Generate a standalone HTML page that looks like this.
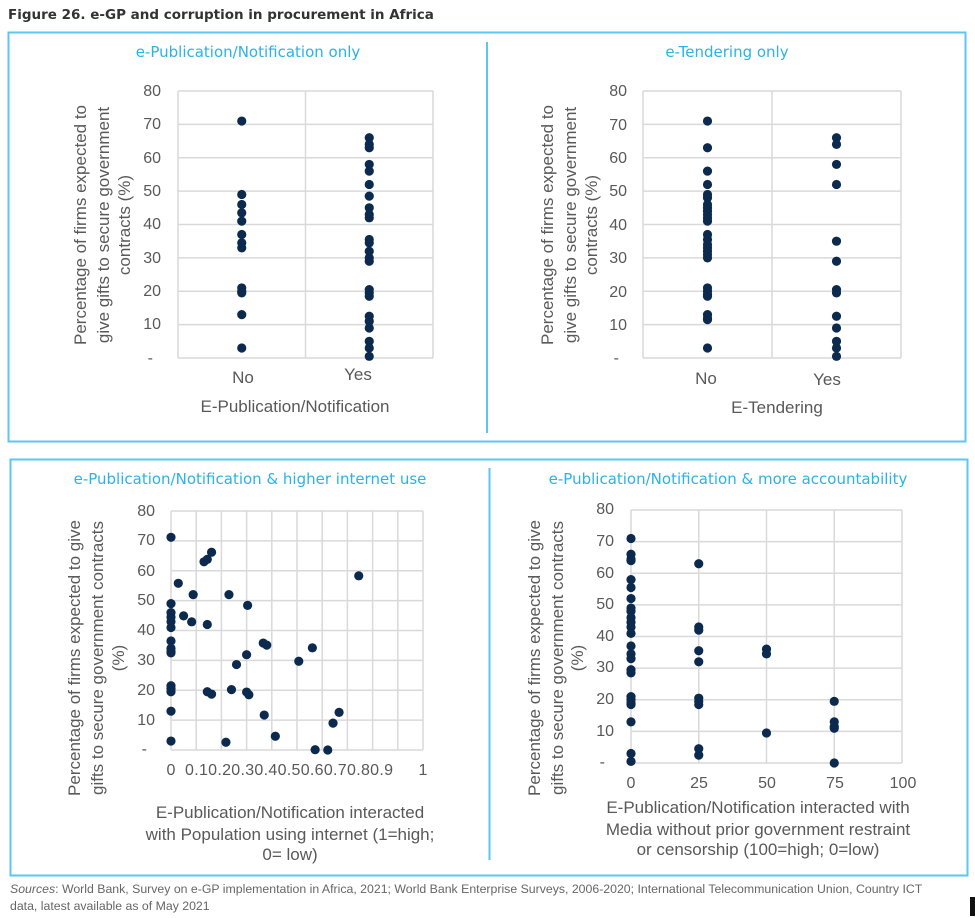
<!DOCTYPE html>
<html><head><meta charset="utf-8"><style>
html,body{margin:0;padding:0;background:#fff;width:975px;height:918px;overflow:hidden}
svg{display:block}
.t{font-family:"Liberation Sans",sans-serif;fill:#595959;font-size:16px}
.a{font-family:"Liberation Sans",sans-serif;fill:#595959;font-size:17px}
.ti{font-family:"DejaVu Sans","Liberation Sans",sans-serif;fill:#2bb3e6;font-size:15px}
</style></head><body>
<svg id="s" width="975" height="918" viewBox="0 0 975 918" xmlns="http://www.w3.org/2000/svg">
<text x="8" y="19" font-family="DejaVu Sans,Liberation Sans,sans-serif" font-weight="bold" font-size="13.5" fill="#333">Figure 26. e-GP and corruption in procurement in Africa</text>
<rect x="8.5" y="32.5" width="957" height="409" fill="none" stroke="#5cc6ee" stroke-width="2"/>
<line x1="487" y1="42" x2="487" y2="433" stroke="#5cc6ee" stroke-width="2"/>
<rect x="10.5" y="459.5" width="957" height="416" fill="none" stroke="#5cc6ee" stroke-width="2"/>
<line x1="489.5" y1="468" x2="489.5" y2="860" stroke="#5cc6ee" stroke-width="2"/>

<text class="ti" x="248" y="57" text-anchor="middle">e-Publication/Notification only</text>
<text class="ti" x="727" y="57" text-anchor="middle">e-Tendering only</text>
<text class="ti" x="250" y="484" text-anchor="middle">e-Publication/Notification &amp; higher internet use</text>
<text class="ti" x="728" y="484" text-anchor="middle">e-Publication/Notification &amp; more accountability</text>

<g id="grids"></g>
<g id="dots" fill="#0c2a4d"></g>

<!-- panel 1 -->
<g class="t" text-anchor="end">
<text x="161" y="96">80</text><text x="161" y="129">70</text><text x="161" y="163">60</text><text x="161" y="196">50</text><text x="161" y="229">40</text><text x="161" y="263">30</text><text x="161" y="296">20</text><text x="161" y="329">10</text><text x="153" y="363">-</text>
</g>
<text class="a" x="243" y="383" text-anchor="middle">No</text>
<text class="a" x="358" y="380" text-anchor="middle">Yes</text>
<text class="a" x="295" y="412" text-anchor="middle">E-Publication/Notification</text>
<g class="a" text-anchor="middle">
<text transform="translate(86,225) rotate(-90)">Percentage of firms expected to</text>
<text transform="translate(109,225) rotate(-90)">give gifts to secure government</text>
<text transform="translate(130,225) rotate(-90)">contracts (%)</text>
</g>

<!-- panel 2 -->
<g class="t" text-anchor="end">
<text x="627" y="96">80</text><text x="627" y="130">70</text><text x="627" y="163">60</text><text x="627" y="196">50</text><text x="627" y="230">40</text><text x="627" y="263">30</text><text x="627" y="297">20</text><text x="627" y="330">10</text><text x="619" y="363">-</text>
</g>
<text class="a" x="706" y="384" text-anchor="middle">No</text>
<text class="a" x="827" y="385" text-anchor="middle">Yes</text>
<text class="a" x="777" y="413" text-anchor="middle">E-Tendering</text>
<g class="a" text-anchor="middle">
<text transform="translate(553,225) rotate(-90)">Percentage of firms expected to</text>
<text transform="translate(576,225) rotate(-90)">give gifts to secure government</text>
<text transform="translate(597,225) rotate(-90)">contracts (%)</text>
</g>

<!-- panel 3 -->
<g class="t" text-anchor="end">
<text x="155" y="516">80</text><text x="155" y="545">70</text><text x="155" y="576">60</text><text x="155" y="605">50</text><text x="155" y="635">40</text><text x="155" y="665">30</text><text x="155" y="695">20</text><text x="155" y="725">10</text><text x="147" y="754">-</text>
</g>
<text class="t" x="171" y="775" text-anchor="middle">0</text>
<text class="t" x="185" y="775" letter-spacing="0.3">0.10.20.30.40.50.60.70.80.9</text>
<text class="t" x="423" y="775" text-anchor="middle">1</text>
<g class="a" text-anchor="middle">
<text x="290" y="818">E-Publication/Notification interacted</text>
<text x="290" y="840">with Population using internet (1=high;</text>
<text x="290" y="860">0= low)</text>
<text transform="translate(80,658) rotate(-90)">Percentage of firms expected to give</text>
<text transform="translate(103,658) rotate(-90)">gifts to secure government contracts</text>
<text transform="translate(124,658) rotate(-90)">(%)</text>
</g>

<!-- panel 4 -->
<g class="t" text-anchor="end">
<text x="614" y="514">80</text><text x="614" y="546">70</text><text x="614" y="578">60</text><text x="614" y="609">50</text><text x="614" y="641">40</text><text x="614" y="672">30</text><text x="614" y="704">20</text><text x="614" y="736">10</text><text x="605" y="767">-</text>
</g>
<g class="t" text-anchor="middle">
<text x="631" y="788">0</text><text x="699" y="788">25</text><text x="767" y="788">50</text><text x="835" y="788">75</text><text x="903" y="788">100</text>
</g>
<g class="a" text-anchor="middle">
<text x="758" y="813">E-Publication/Notification interacted with</text>
<text x="758" y="835">Media without prior government restraint</text>
<text x="758" y="855">or censorship (100=high; 0=low)</text>
<text transform="translate(540,658) rotate(-90)">Percentage of firms expected to give</text>
<text transform="translate(563,658) rotate(-90)">gifts to secure government contracts</text>
<text transform="translate(583,658) rotate(-90)">(%)</text>
</g>

<g font-family="Liberation Sans,sans-serif" font-size="12.3" fill="#666">
<text x="10" y="893"><tspan font-style="italic">Sources</tspan>: World Bank, Survey on e-GP implementation in Africa, 2021; World Bank Enterprise Surveys, 2006-2020; International Telecommunication Union, Country ICT</text>
<text x="10" y="910">data, latest available as of May 2021</text>
</g>
<rect x="970" y="897" width="5" height="19" fill="#111"/>
</svg>
<script>
var NS="http://www.w3.org/2000/svg",G=document.getElementById('grids'),D=document.getElementById('dots');
function el(p,t,a){var e=document.createElementNS(NS,t);for(var k in a)e.setAttribute(k,a[k]);p.appendChild(e);}
function panel(L,R,T,B,vx,pts,xmax){
 for(var i=0;i<=8;i++){var y=B-(B-T)*i/8;el(G,'line',{x1:L,x2:R,y1:y,y2:y,stroke:'#d9d9d9','stroke-width':1.5});}
 vx.forEach(function(v){var x=L+(R-L)*v;el(G,'line',{x1:x,x2:x,y1:T,y2:B,stroke:'#d9d9d9','stroke-width':1.5});});
 pts.forEach(function(p){el(D,'circle',{cx:L+(R-L)*p[0]/xmax,cy:B-(B-T)*p[1]/80,r:4.6});});
}
function col(x,a){return a.map(function(v){return [x,v];});}
var v2=[0,0.5,1];
panel(178,433,91,358,v2,
 col(0.25,[71,49,46,43.5,41,37,34.5,33,21,20,19.5,13,3]).concat(col(0.75,[66,64,63,58,56,52,48.5,45,43,42,35.5,34.5,32,30,29,20.5,19.5,18.5,12.5,11,9,5,3,0.5])),1);
panel(643,901,91,358,v2,
 col(0.25,[71,63,56,52,49,48,46,45,44,43,42,41,37,35.5,34,33,32,31,30,21,20,19,18.5,13,12,11.5,3]).concat(col(0.75,[66,64,58,52,35,29,20.5,19.5,12.5,9,5,3,0.5])),1);
var v10=[];for(var i=0;i<=10;i++)v10.push(i/10);
panel(171,423,511,750,v10,
 [[0,71.2],[0.029,55.8],[0.088,52],[0.05,44.9],[0.082,42.9],[0.144,42],[0.131,63],[0.144,63.8],[0.161,66.2],[0.23,52],[0.304,48.4],[0.366,35.8],[0.38,35.1],[0.3,31.9],[0.26,28.6],[0.507,29.7],[0.561,34.2],[0.745,58.3],[0.144,19.5],[0.161,18.7],[0.24,20.2],[0.3,19.4],[0.309,18.5],[0.37,11.7],[0.414,4.6],[0.218,2.6],[0.572,0.1],[0.622,0],[0.643,9],[0.667,12.6]].concat(col(0,[49,46,44.5,43,41,36.5,34,33,32.5,21.5,20.5,19.5,13,3])),1);
panel(631,902,510,763,[0,0.25,0.5,0.75,1],
 col(0,[71,66,64.5,64,58,55.5,52,49,48,46,44.5,43,41,37,34.5,33,29.5,28.5,21,20,19,18.5,13,3,0.5]).concat(col(25,[63,43,42,35.5,32,20.5,19.5,18.5,4.5,2.5]),col(50,[36,34.5,9.5]),col(75,[19.5,13,11.5,11,0])),100);
</script>
</body></html>
